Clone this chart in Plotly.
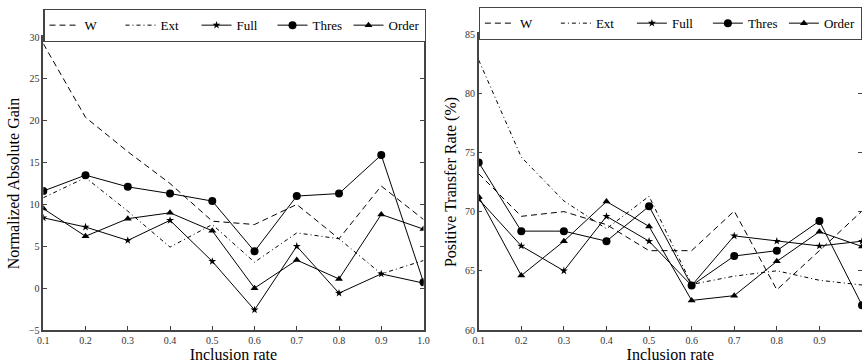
import plotly.graph_objects as go

# Inclusion rates on the x axis
rates = [0.1, 0.2, 0.3, 0.4, 0.5, 0.6, 0.7, 0.8, 0.9, 1.0]
rate_ticks = ["0.1", "0.2", "0.3", "0.4", "0.5", "0.6", "0.7", "0.8", "0.9", "1.0"]

# Normalized absolute gain per method
gain_w = [29.2, 20.4, 16.3, 12.5, 8.0, 7.6, 10.0, 5.9, 12.2, 8.2]
gain_ext = [10.8, 13.2, 9.2, 4.9, 7.6, 3.1, 6.6, 5.9, 1.7, 3.3]
gain_full = [8.4, 7.3, 5.7, 8.1, 3.2, -2.6, 5.0, -0.6, 1.7, 0.6]
gain_thres = [11.6, 13.5, 12.1, 11.3, 10.4, 4.4, 11.0, 11.3, 15.9, 0.7]
gain_order = [9.5, 6.2, 8.3, 9.0, 6.85, 0.0, 3.35, 1.1, 8.8, 7.05]

# Positive transfer rate (%) per method
ptr_w = [73.2, 69.6, 70.0, 68.9, 66.7, 66.7, 70.05, 63.4, 66.7, 70.05]
ptr_ext = [82.8, 74.6, 70.9, 68.55, 71.3, 63.85, 64.55, 65.0, 64.2, 63.8]
ptr_full = [71.05, 67.1, 65.0, 69.6, 67.5, 63.75, 67.95, 67.5, 67.1, 67.5]
ptr_thres = [74.15, 68.35, 68.35, 67.5, 70.45, 63.75, 66.25, 66.7, 69.2, 62.1]
ptr_order = [71.25, 64.6, 67.5, 70.85, 68.75, 62.5, 62.9, 65.8, 68.3, 67.05]

gain_ticks = [-5, 0, 5, 10, 15, 20, 25, 30]
ptr_ticks = [60, 65, 70, 75, 80, 85]

W_PX, H_PX = 862, 363
FONT = "Liberation Serif"
INK = "black"
FRAME = "#444444"

styles = {
    "W": dict(mode="lines", line=dict(color=INK, width=1, dash="6px,4px")),
    "Ext": dict(mode="lines", line=dict(color=INK, width=1, dash="4px,3px,1px,3px")),
    "Full": dict(mode="lines+markers", line=dict(color=INK, width=1),
                 marker=dict(symbol="star", size=6, color=INK)),
    "Thres": dict(mode="lines+markers", line=dict(color=INK, width=1),
                  marker=dict(symbol="circle", size=8, color=INK)),
    "Order": dict(mode="lines+markers", line=dict(color=INK, width=1),
                  marker=dict(symbol="triangle-up", size=7, color=INK)),
}

fig = go.Figure()

left = [("W", gain_w), ("Ext", gain_ext), ("Full", gain_full),
        ("Thres", gain_thres), ("Order", gain_order)]
right = [("W", ptr_w), ("Ext", ptr_ext), ("Full", ptr_full),
         ("Thres", ptr_thres), ("Order", ptr_order)]

for name, vals in left:
    fig.add_trace(go.Scatter(x=rates, y=vals, name=name, xaxis="x", yaxis="y",
                             legend="legend", cliponaxis=True, **styles[name]))
for name, vals in right:
    fig.add_trace(go.Scatter(x=rates, y=vals, name=name, xaxis="x2", yaxis="y2",
                             legend="legend2", cliponaxis=True, **styles[name]))


def px_x(p):
    return p / W_PX


def px_y(p):
    return 1 - p / H_PX


axis_common = dict(
    showline=True, linecolor=FRAME, linewidth=1.5, mirror="ticks",
    ticks="inside", ticklen=4, tickcolor=FRAME, tickwidth=1,
    showgrid=False, zeroline=False, automargin=False,
    tickfont=dict(family=FONT, size=10, color="#333333"),
)

legend_common = dict(
    orientation="h", xanchor="left", yanchor="top",
    bgcolor="white", bordercolor=FRAME, borderwidth=1.2,
    font=dict(family=FONT, size=13, color=INK),
    itemwidth=30, entrywidth=31, tracegroupgap=0,
)

fig.update_layout(
    width=W_PX, height=H_PX,
    margin=dict(l=0, r=0, t=0, b=0, autoexpand=False),
    paper_bgcolor="white", plot_bgcolor="white",
    font=dict(family=FONT, color=INK),
    xaxis=dict(domain=[px_x(43.3), px_x(423.5)], range=[0.1, 1.0], anchor="y",
               tickvals=rates, ticktext=rate_ticks,
               title=dict(text="Inclusion rate", font=dict(family=FONT, size=16), standoff=2),
               **axis_common),
    yaxis=dict(domain=[px_y(330), px_y(37)], range=[-5, 30], anchor="x",
               tickvals=gain_ticks,
               title=dict(text="Normalized Absolute Gain", font=dict(family=FONT, size=16), standoff=5),
               **axis_common),
    xaxis2=dict(domain=[px_x(478.7), 1.0], range=[0.1, 1.0], anchor="y2",
                tickvals=rates, ticktext=rate_ticks,
                title=dict(text="Inclusion rate", font=dict(family=FONT, size=16), standoff=2),
                **axis_common),
    yaxis2=dict(domain=[px_y(330), px_y(34)], range=[60, 85], anchor="x2",
                tickvals=ptr_ticks,
                title=dict(text="Positive Transfer Rate (%)", font=dict(family=FONT, size=16), standoff=4),
                **axis_common),
    legend=dict(x=px_x(43.3), y=px_y(9), **legend_common),
    legend2=dict(x=px_x(478.7), y=px_y(7), **legend_common),
)

fig.write_html("out.html")
